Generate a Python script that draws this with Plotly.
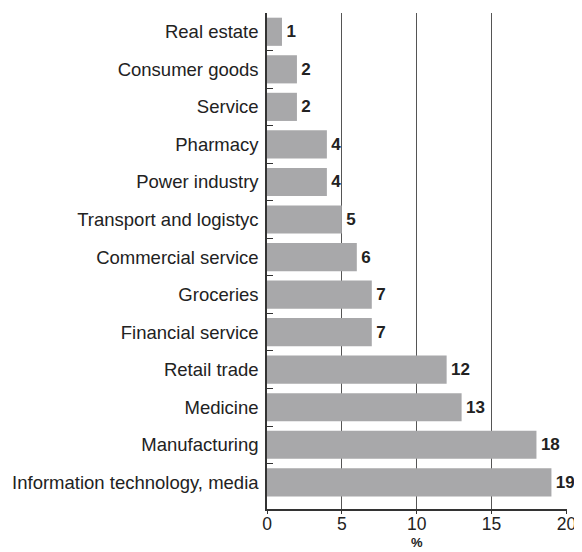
import plotly.graph_objects as go

categories = ["Real estate", "Consumer goods", "Service", "Pharmacy", "Power industry",
              "Transport and logistyc", "Commercial service", "Groceries", "Financial service",
              "Retail trade", "Medicine", "Manufacturing", "Information technology, media"]
values = [1, 2, 2, 4, 4, 5, 6, 7, 7, 12, 13, 18, 19]
x_ticks = [0, 5, 10, 15, 20]

fig = go.Figure(go.Bar(
    x=values, y=categories, orientation="h",
    marker=dict(color="#a8a8aa", line=dict(width=0)),
    width=0.75,
    text=[str(v) for v in values], textposition="outside",
    textfont=dict(family="Liberation Sans, Arial", size=17, color="#222222"),
    texttemplate="\u200a<b>%{text}</b>",
    cliponaxis=False,
))

fig.update_layout(
    width=574, height=544,
    margin=dict(l=259, r=15, t=5, b=43, autoexpand=False),
    paper_bgcolor="white", plot_bgcolor="white",
    font=dict(family="Liberation Sans, Arial", size=18.5, color="#222222"),
    showlegend=False,
    bargap=0.25,
    annotations=[dict(text="<b>%</b>", x=10, xref="x", y=0, yref="paper",
                      yanchor="top", yshift=-24, showarrow=False,
                      font=dict(size=13, color="#222222"))],
)
fig.update_xaxes(
    range=[0, 20.04], tickvals=x_ticks, showgrid=True, gridcolor="#555555", gridwidth=1,
    showline=True, linecolor="#333333", linewidth=1.5,
    ticks="outside", ticklen=3, tickcolor="#333333",
    tickfont=dict(size=17.5), ticklabelstandoff=-5,
    zeroline=False, automargin=False,
)
fig.update_yaxes(
    categoryorder="array", categoryarray=categories,
    range=[12.71, -0.5],
    showgrid=False, showline=True, linecolor="#333333", linewidth=1.5,
    ticks="inside", tickson="boundaries", ticklen=6, tickcolor="#333333",
    ticklabelstandoff=3, automargin=False,
)

fig.write_html("out.html")
